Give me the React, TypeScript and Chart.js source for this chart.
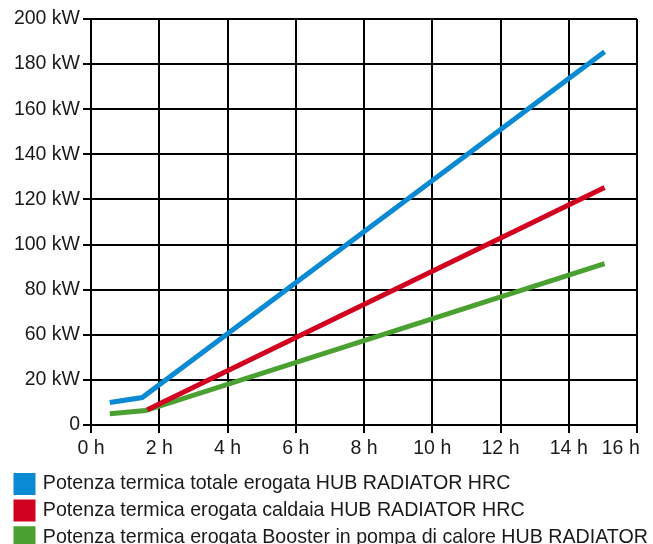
import React, { useEffect, useRef } from "react";
import { Chart, registerables } from "chart.js";

Chart.register(...registerables);

// Hours (x) and power readings (in grid-position units of the printed axis)
const totalHours = [0.55, 1.5, 15.05];
const totalPower = [10.0, 12.2, 165.5];
const boilerHours = [1.65, 15.05];
const boilerPower = [6.8, 105.3];
const boosterHours = [0.55, 1.6, 15.05];
const boosterPower = [5.0, 6.4, 71.6];

const seriesNames = [
  "Potenza termica totale erogata HUB RADIATOR HRC",
  "Potenza termica erogata caldaia HUB RADIATOR HRC",
  "Potenza termica erogata Booster in pompa di calore HUB RADIATOR HRC",
];
const seriesColors = ["#0a8ad2", "#d0021f", "#4aa030"];

// Printed y tick labels (the source axis skips "40 kW")
const yTickLabels = ["0", "20 kW", "60 kW", "80 kW", "100 kW", "120 kW", "140 kW", "160 kW", "180 kW", "200 kW"];
const xTickValues = [0, 2, 4, 6, 8, 10, 12, 14, 16];

const toPoints = (xs: number[], ys: number[]) => xs.map((x, i) => ({ x, y: ys[i] }));

export default function App() {
  const ref = useRef<HTMLCanvasElement>(null);
  useEffect(() => {
    if (!ref.current) return;
    const font = { family: "'Liberation Sans', Arial, sans-serif", size: 19.5 };
    const lastX = xTickValues[xTickValues.length - 1];
    const chart = new Chart(ref.current, {
      type: "line",
      data: {
        datasets: [
          { label: seriesNames[0], data: toPoints(totalHours, totalPower) },
          { label: seriesNames[1], data: toPoints(boilerHours, boilerPower) },
          { label: seriesNames[2], data: toPoints(boosterHours, boosterPower) },
        ].map((d, i) => ({
          ...d,
          borderColor: seriesColors[i],
          backgroundColor: seriesColors[i],
          borderWidth: 5,
          pointRadius: 0,
          tension: 0,
          fill: false,
        })),
      },
      options: {
        responsive: false,
        animation: false,
        layout: { padding: { top: 19, left: 9, right: 0, bottom: 0 } },
        plugins: {
          tooltip: { enabled: false },
          legend: {
            position: "bottom",
            align: "start",
            labels: {
              color: "#1a1a1a",
              font: { ...font, size: 19.65 },
              boxWidth: 17,
              boxHeight: 17,
              padding: 7,
            },
          },
        },
        scales: {
          x: {
            type: "linear",
            min: xTickValues[0],
            max: lastX,
            afterBuildTicks: (s: any) => {
              s.ticks = xTickValues.map((v) => ({ value: v }));
            },
            afterFit: (s: any) => {
              s.height = 42;
              s.paddingRight = 16;
            },
            ticks: {
              color: "#1a1a1a",
              font,
              padding: 4,
              maxRotation: 0,
              autoSkip: false,
              callback: (v: any) => (Number(v) === lastX ? `${v} h      ` : `${v} h`),
            },
            grid: { color: "#000", lineWidth: 2, tickLength: 8 },
            border: { color: "#000", width: 2 },
          },
          y: {
            type: "linear",
            min: 0,
            max: (yTickLabels.length - 1) * 20,
            ticks: {
              stepSize: 20,
              color: "#1a1a1a",
              font,
              padding: 3,
              callback: (v: any) => yTickLabels[Math.round(Number(v) / 20)],
            },
            afterFit: (s: any) => {
              s.width = 82;
            },
            grid: { color: "#000", lineWidth: 2, tickLength: 8 },
            border: { color: "#000", width: 2 },
          },
        },
      },
    } as any);
    return () => chart.destroy();
  }, []);
  return (
    <div style={{ position: "fixed", left: 0, top: 0, width: 653, height: 544, overflow: "hidden", background: "#fff" }}>
      <canvas ref={ref} width={653} height={557} style={{ display: "block" }} />
    </div>
  );
}
